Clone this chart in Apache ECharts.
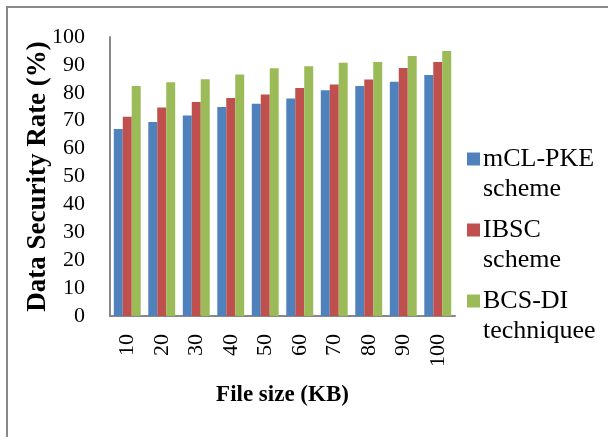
<!DOCTYPE html>
<html>
<head>
<meta charset="utf-8">
<script src="https://cdn.jsdelivr.net/npm/echarts@6/dist/echarts.min.js"></script>
<style>
  html, body { margin: 0; padding: 0; background: #fff; }
  #main { width: 608px; height: 437px; }
</style>
</head>
<body>
<div id="main"></div>
<script>
// file sizes (KB)
var categories = ['10', '20', '30', '40', '50', '60', '70', '80', '90', '100'];
// data security rate (%)
var mclpke = [67.0, 69.5, 71.9, 74.9, 76.1, 78.0, 80.9, 82.4, 84.0, 86.4];
var ibsc   = [71.4, 74.7, 76.7, 78.1, 79.4, 81.7, 83.0, 84.8, 88.9, 91.0];
var bcsdi  = [82.4, 83.8, 84.9, 86.6, 88.8, 89.5, 90.8, 91.0, 93.2, 95.0];
var seriesNames = ['mCL-PKE\nscheme', 'IBSC\nscheme', 'BCS-DI\ntechniquee'];

var font = 'Liberation Serif, Times New Roman, serif';
var myChart = echarts.init(document.getElementById('main'));

myChart.setOption({
  backgroundColor: '#fff',
  textStyle: { fontFamily: font },
  color: ['#4F81BD', '#C0504D', '#9BBB59'],
  graphic: [{
    type: 'rect',
    shape: { x: 7, y: 7, width: 700, height: 600 },
    style: { fill: 'none', stroke: '#888', lineWidth: 2 },
    silent: true
  }],
  grid: { left: 110, right: 153, top: 37, bottom: 121 },
  legend: {
    orient: 'vertical',
    left: 462,
    top: 139,
    itemWidth: 13,
    itemHeight: 60,
    itemGap: 11,
    icon: 'path://M0,8.5h13v13h-13Z M0,0h0.001 M0,60h0.001',
    textStyle: { fontFamily: font, fontSize: 26, color: '#000', lineHeight: 30, padding: [0, 0, 0, -2] },
    data: seriesNames
  },
  xAxis: {
    type: 'category',
    data: categories,
    name: 'File size (KB)',
    nameLocation: 'middle',
    nameGap: 68,
    nameMoveOverlap: false,
    nameTextStyle: { fontFamily: font, fontSize: 23, fontWeight: 'bold', color: '#000', verticalAlign: 'top' },
    axisLine: { lineStyle: { color: '#888', width: 2 } },
    axisTick: { show: false },
    axisLabel: { rotate: 90, margin: 18, fontFamily: font, fontSize: 22, color: '#000' }
  },
  yAxis: {
    type: 'value',
    min: 0,
    max: 100,
    interval: 10,
    name: 'Data Security Rate (%)',
    nameLocation: 'middle',
    nameGap: 58,
    nameMoveOverlap: false,
    nameTextStyle: { fontFamily: font, fontSize: 27, fontWeight: 'bold', color: '#000' },
    axisLine: { show: true, lineStyle: { color: '#888', width: 2 } },
    axisTick: { show: false },
    splitLine: { show: false },
    axisLabel: { margin: 25, fontFamily: font, fontSize: 22, color: '#000' }
  },
  series: [
    { name: seriesNames[0], type: 'bar', data: mclpke, barGap: '0%', barCategoryGap: '22%' },
    { name: seriesNames[1], type: 'bar', data: ibsc, barGap: '0%', barCategoryGap: '22%' },
    { name: seriesNames[2], type: 'bar', data: bcsdi, barGap: '0%', barCategoryGap: '22%' }
  ]
});
</script>
</body>
</html>
